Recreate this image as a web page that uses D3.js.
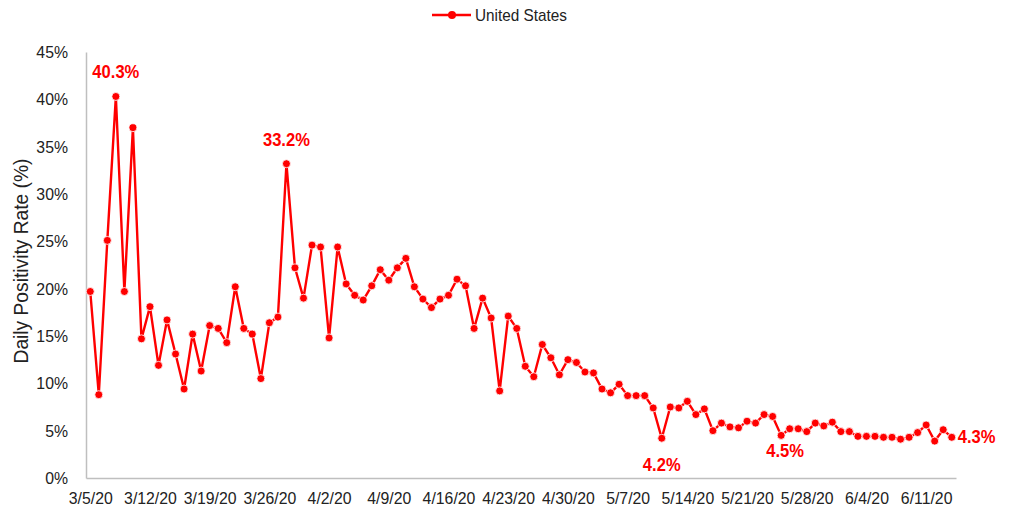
<!DOCTYPE html>
<html>
<head>
<meta charset="utf-8">
<script src="https://cdn.jsdelivr.net/npm/d3@7"></script>
<style>
  html, body { margin: 0; padding: 0; background: #fff; }
  svg text { font-family: "Liberation Sans Narrow", "Arial Narrow", "Liberation Sans", Arial, sans-serif; }
</style>
</head>
<body>
<svg id="chart" width="1019" height="513"></svg>
<script>
const seriesName = "United States";
const startDate = "2020-03-05";
const values = [
  19.7, 8.8, 25.1, 40.3, 19.7, 37.0, 14.7, 18.1, 11.9, 16.7,
  13.1, 9.4, 15.2, 11.3, 16.1, 15.8, 14.3, 20.2, 15.8, 15.2,
  10.5, 16.4, 17.0, 33.2, 22.2, 19.0, 24.6, 24.4, 14.8, 24.4,
  20.5, 19.3, 18.8, 20.3, 22.0, 20.9, 22.2, 23.2, 20.2, 18.9,
  18.0, 18.9, 19.3, 21.0, 20.3, 15.8, 19.0, 16.9, 9.2, 17.1,
  15.8, 11.8, 10.7, 14.1, 12.7, 10.9, 12.5, 12.2, 11.2, 11.1,
  9.4, 9.0, 9.9, 8.7, 8.7, 8.7, 7.4, 4.2, 7.5, 7.4,
  8.1, 6.7, 7.3, 5.0, 5.8, 5.4, 5.3, 6.0, 5.8, 6.7,
  6.5, 4.5, 5.2, 5.2, 4.9, 5.8, 5.5, 5.9, 4.9, 4.9,
  4.4, 4.4, 4.4, 4.3, 4.3, 4.1, 4.3, 4.8, 5.6, 3.9,
  5.1, 4.3
];
const yTicks = [0, 5, 10, 15, 20, 25, 30, 35, 40, 45];
const tickEvery = 7;
const labelledIdx = [3, 23, 67, 81, 101];
const yTitle = "Daily Positivity Rate (%)";

const parse = d3.timeParse("%Y-%m-%d");
const start = parse(startDate);
const dates = values.map((v, i) => d3.timeDay.offset(start, i));
const fmt = d => `${d.getMonth() + 1}/${d.getDate()}/${String(d.getFullYear()).slice(2)}`;
const data = values.map((v, i) => ({ i, date: dates[i], v }));

const svg = d3.select("#chart");
const red = "#ff0000";
const mLeft = 86, mRight = 956, mTop = 52, mBottom = 478;

const x = d3.scalePoint().domain(d3.range(values.length)).range([mLeft, mRight]).padding(0.5);
const y = d3.scaleLinear().domain([0, 45]).range([mBottom, mTop]);

function narrow(sel, k) {
  sel.each(function () {
    const w = this.getComputedTextLength();
    d3.select(this).attr("textLength", w * k).attr("lengthAdjust", "spacingAndGlyphs");
  });
}

// Y axis
const yAxis = d3.axisLeft(y).tickValues(yTicks).tickSize(0).tickPadding(18).tickFormat(d => d + "%");
const gy = svg.append("g").attr("transform", `translate(${mLeft},0)`).call(yAxis);
gy.select(".domain").attr("stroke", "#bfbfbf").attr("stroke-width", 1.5);
gy.selectAll("text").attr("font-size", 17).attr("fill", "#222").call(narrow, 0.93);

// X axis
const xAxis = d3.axisBottom(x).tickValues(d3.range(0, values.length, tickEvery)).tickSize(0).tickPadding(14)
  .tickFormat(i => fmt(dates[i]));
const gx = svg.append("g").attr("transform", `translate(0,${mBottom})`).call(xAxis);
gx.select(".domain").attr("stroke", "#bfbfbf").attr("stroke-width", 1.5);
gx.selectAll("text").attr("font-size", 17).attr("fill", "#222").call(narrow, 0.93);

// Y title
svg.append("text")
  .attr("transform", `translate(28,${261}) rotate(-90)`)
  .attr("text-anchor", "middle")
  .attr("font-size", 20)
  .attr("fill", "#222")
  .attr("textLength", 205)
  .attr("lengthAdjust", "spacingAndGlyphs")
  .text(yTitle);

// Line
const line = d3.line().x(d => x(d.i)).y(d => y(d.v));
svg.append("path").datum(data)
  .attr("fill", "none").attr("stroke", red).attr("stroke-width", 2.4)
  .attr("d", line);

svg.append("g").selectAll("circle").data(data).join("circle")
  .attr("cx", d => x(d.i)).attr("cy", d => y(d.v)).attr("r", 4)
  .attr("fill", red).attr("stroke", "#fff").attr("stroke-width", 0.8);

// Data labels
const labelPos = {
  3: { dx: 0, dy: -18, anchor: "middle" },
  23: { dx: 0, dy: -18, anchor: "middle" },
  67: { dx: 0, dy: 33, anchor: "middle" },
  81: { dx: 4, dy: 22, anchor: "middle" },
  101: { dx: 6, dy: 5.5, anchor: "start" }
};
svg.append("g").selectAll("text").data(labelledIdx.map(i => data[i])).join("text")
  .attr("x", d => x(d.i) + labelPos[d.i].dx)
  .attr("y", d => y(d.v) + labelPos[d.i].dy)
  .attr("text-anchor", d => labelPos[d.i].anchor)
  .attr("font-size", 18).attr("font-weight", "bold").attr("fill", red)
  .text(d => d.v.toFixed(1) + "%")
  .call(narrow, 0.92);

// Legend
const lg = svg.append("g").attr("transform", "translate(432,15)");
lg.append("line").attr("x1", 0).attr("x2", 39).attr("y1", 0).attr("y2", 0).attr("stroke", red).attr("stroke-width", 2.4);
lg.append("circle").attr("cx", 20).attr("cy", 0).attr("r", 4).attr("fill", red);
lg.append("text").attr("x", 43).attr("y", 6).attr("font-size", 17).attr("fill", "#222")
  .attr("textLength", 92).attr("lengthAdjust", "spacingAndGlyphs").text(seriesName);
</script>
</body>
</html>
